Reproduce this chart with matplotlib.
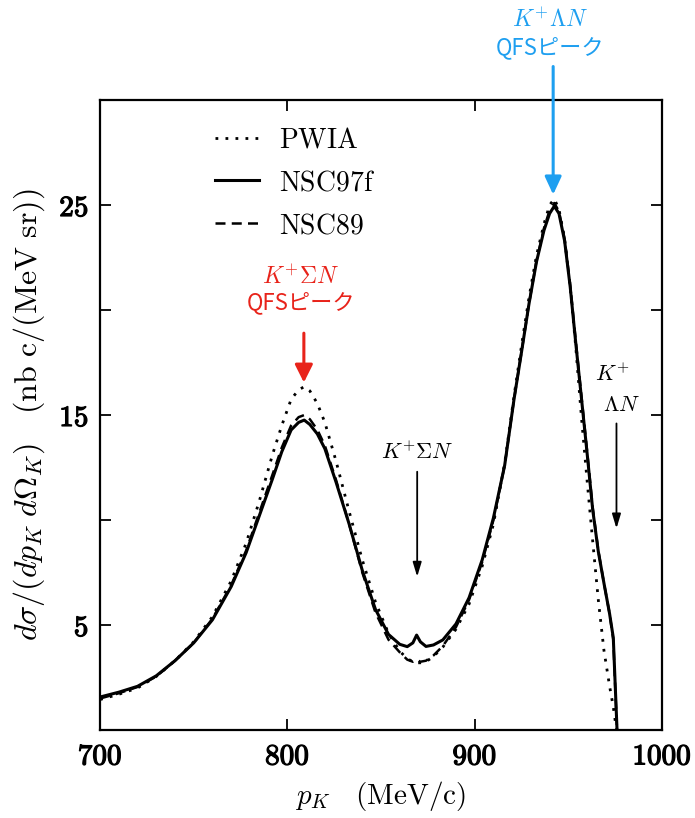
import matplotlib
matplotlib.use("Agg")
import matplotlib.pyplot as plt
import matplotlib.patheffects as pe

plt.rcParams['mathtext.fontset'] = 'cm'
plt.rcParams['font.family'] = ['DejaVu Serif']

# momentum grid (MeV/c)
p_k = [700, 710, 720, 730, 740, 750, 760, 770, 778, 785, 792, 797, 802, 806, 809,
       812, 816, 820, 826, 833, 840, 847, 854, 860, 864, 867, 869, 871, 874, 878,
       883, 890, 897, 904, 910, 916, 921, 925, 929, 933, 937, 940, 942.5, 945, 948,
       951, 954, 957, 960, 963, 966, 969, 972, 974, 975, 976]

# cross sections, nb c/(MeV sr)
nsc97f = [1.57, 1.80, 2.08, 2.58, 3.30, 4.15, 5.25, 6.83, 8.45, 10.2, 11.95, 13.25, 14.29, 14.65, 14.76,
          14.55, 14.1, 13.4, 11.8, 9.8, 7.6, 5.75, 4.55, 4.08, 3.97, 4.15, 4.52, 4.2, 3.98, 4.05,
          4.29, 5.05, 6.3, 8.1, 10.1, 12.6, 15.75, 18.0, 20.3, 22.3, 23.8, 24.6, 24.95, 24.6, 23.3,
          21.1, 18.4, 15.8, 13.2, 10.5, 8.5, 7.0, 5.55, 4.4, 2.2, 0.0]
nsc89 = [1.50, 1.75, 2.05, 2.55, 3.30, 4.15, 5.30, 6.90, 8.55, 10.35, 12.15, 13.45, 14.5, 14.9, 15.0,
         14.8, 14.3, 13.55, 11.9, 9.8, 7.5, 5.6, 4.3, 3.7, 3.35, 3.25, 3.35, 3.25, 3.3, 3.55,
         4.0, 4.9, 6.2, 8.0, 10.0, 12.6, 15.75, 18.0, 20.3, 22.35, 23.9, 24.75, 25.1, 24.7, 23.4,
         21.2, 18.5, 15.9, 13.3, 10.6, 8.55, 7.0, 5.55, 4.3, 2.1, 0.0]
pwia = [1.45, 1.70, 2.00, 2.55, 3.30, 4.20, 5.40, 7.10, 8.9, 10.9, 13.1, 14.5, 15.75, 16.2, 16.35,
        16.15, 15.55, 14.65, 12.8, 10.4, 8.1, 6.1, 4.6, 3.75, 3.4, 3.25, 3.2, 3.2, 3.25, 3.5,
        3.95, 4.8, 6.0, 7.8, 9.8, 12.7, 15.9, 18.3, 20.6, 22.6, 24.1, 25.0, 25.3, 24.8, 23.4,
        21.1, 18.2, 14.9, 11.9, 9.0, 6.2, 3.8, 2.1, 1.1, 0.45, 0.0]

x_ticks = [700, 800, 900, 1000]
x_tick_labels = ['700', '800', '900', '1000']
y_ticks = [5, 10, 15, 20, 25]
y_tick_labels = ['5', '', '15', '', '25']

red = '#e8231a'
blue = '#1e9ff0'

fig = plt.figure(figsize=(6.95, 8.18), dpi=100)
ax = fig.add_axes([0.144, 0.1076, 0.8085, 0.770])

ax.plot(p_k, pwia, color='black', lw=2.0, linestyle=(0, (1, 2.6)), label=r'$\mathrm{PWIA}$')
ax.plot(p_k, nsc97f, color='black', lw=2.2, linestyle='-', label=r'$\mathrm{NSC97f}$')
ax.plot(p_k, nsc89, color='black', lw=1.8, linestyle=(0, (4, 2.5)), label=r'$\mathrm{NSC89}$')

ax.set_xlim(700, 1000)
ax.set_ylim(0, 30)
ax.set_xticks(x_ticks)
ax.set_xticklabels([r'$\mathbf{%s}$' % t for t in x_tick_labels])
ax.set_yticks(y_ticks)
ax.set_yticklabels([r'$\mathbf{%s}$' % t if t else '' for t in y_tick_labels])
ax.tick_params(direction='in', top=True, right=True, length=8, width=1.3, labelsize=21)
ax.tick_params(axis='x', pad=9)
ax.tick_params(axis='y', pad=8)
for lab in ax.get_xticklabels() + ax.get_yticklabels():
    lab.set_path_effects([pe.withStroke(linewidth=0.9, foreground='black')])
for s in ax.spines.values():
    s.set_linewidth(1.6)

ax.set_xlabel(r'$p_K\quad\mathrm{(MeV/c)}$', fontsize=21, labelpad=6)
ax.set_ylabel(r'$d\sigma/(dp_K\;d\Omega_K)\quad\mathbf{(}\mathrm{nb\ c/(MeV\ sr)}\mathbf{)}$',
              fontsize=23, labelpad=9)

leg = ax.legend(loc='upper left', bbox_to_anchor=(0.16, 0.998), frameon=False,
                fontsize=20, handlelength=1.6, handletextpad=0.7, labelspacing=0.57)

# red annotation: K+ Sigma N QFS peak
ax.text(807.2, 21.6, r'$K^{+}\Sigma N$', color=red, fontsize=17, ha='center', va='center')
ax.text(807.2, 20.35, 'QFSピーク', color=red, fontsize=16, ha='center', va='center',
        family=['Noto Sans CJK JP', 'DejaVu Sans'])
ax.annotate('', xy=(808.8, 16.55), xytext=(808.8, 18.9),
            arrowprops=dict(arrowstyle='-|>,head_length=0.54,head_width=0.27', color=red,
                            lw=2.2, mutation_scale=20, shrinkA=0, shrinkB=0))

# blue annotation: K+ Lambda N QFS peak
ax.text(940.5, 33.8, r'$K^{+}\Lambda N$', color=blue, fontsize=17, ha='center', va='center')
ax.text(940.5, 32.5, 'QFSピーク', color=blue, fontsize=16, ha='center', va='center',
        family=['Noto Sans CJK JP', 'DejaVu Sans'])
ax.annotate('', xy=(941.9, 25.5), xytext=(941.9, 31.6), annotation_clip=False,
            arrowprops=dict(arrowstyle='-|>,head_length=0.54,head_width=0.25', color=blue,
                            lw=2.2, mutation_scale=20, shrinkA=0, shrinkB=0, clip_on=False))

# black threshold arrows
ax.text(869.3, 13.2, r'$K^{+}\Sigma N$', color='black', fontsize=16, ha='center', va='center')
ax.annotate('', xy=(869.3, 7.3), xytext=(869.3, 12.3),
            arrowprops=dict(arrowstyle='-|>,head_length=0.43,head_width=0.13', color='black',
                            lw=1.3, mutation_scale=20, shrinkA=0, shrinkB=0))
ax.text(973.6, 16.9, r'$K^{+}$', color='black', fontsize=16, ha='center', va='center')
ax.text(978.4, 15.5, r'$\Lambda N$', color='black', fontsize=16, ha='center', va='center')
ax.annotate('', xy=(975.7, 9.6), xytext=(975.7, 14.6),
            arrowprops=dict(arrowstyle='-|>,head_length=0.43,head_width=0.13', color='black',
                            lw=1.3, mutation_scale=20, shrinkA=0, shrinkB=0))

fig.savefig('out.png', dpi=100)
